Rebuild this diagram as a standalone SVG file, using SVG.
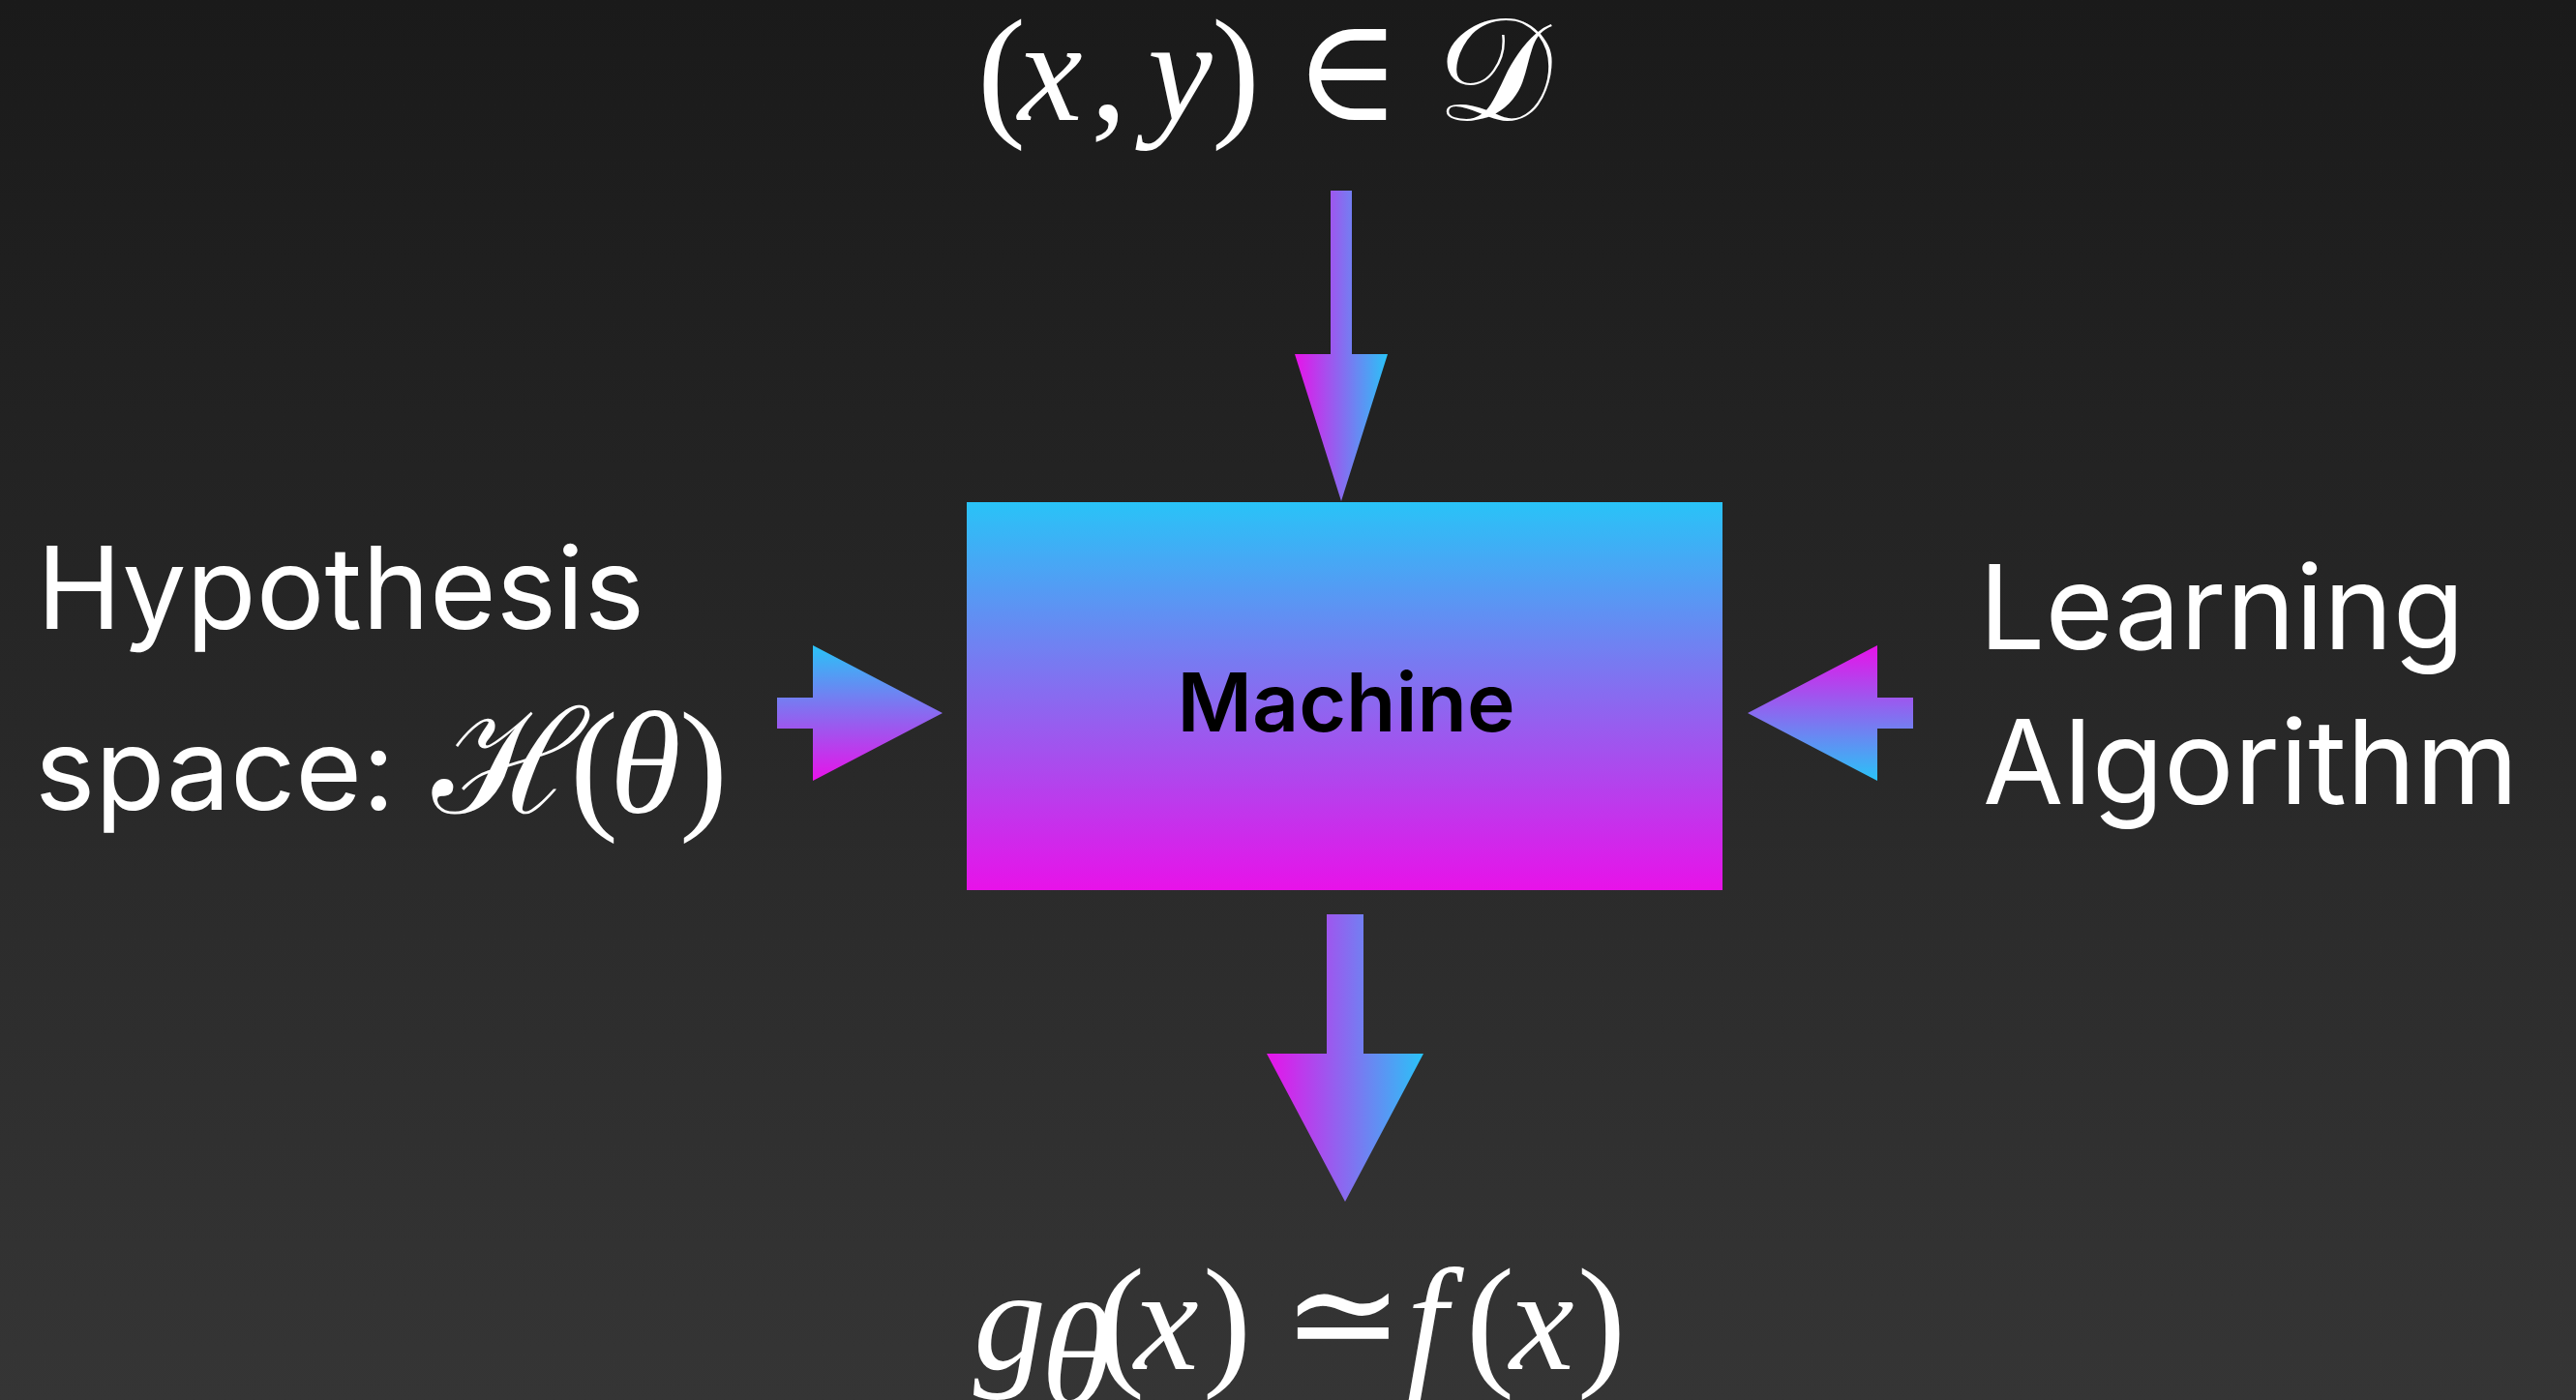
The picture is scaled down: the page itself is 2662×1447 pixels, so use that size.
<svg xmlns="http://www.w3.org/2000/svg" width="2662" height="1447" viewBox="0 0 2662 1447">
  <defs>
    <linearGradient id="bg" x1="0" y1="0" x2="0" y2="1">
      <stop offset="0" stop-color="#1a1a1a"/>
      <stop offset="1" stop-color="#353535"/>
    </linearGradient>
    <linearGradient id="rectGrad" x1="0" y1="0" x2="0" y2="1">
      <stop offset="0" stop-color="#29c3f7"/>
      <stop offset="1" stop-color="#e812e9"/>
    </linearGradient>
    <linearGradient id="gradLR" x1="0" y1="0" x2="1" y2="0">
      <stop offset="0" stop-color="#e812e9"/>
      <stop offset="1" stop-color="#29c3f7"/>
    </linearGradient>
    <linearGradient id="gradTB" x1="0" y1="0" x2="0" y2="1">
      <stop offset="0" stop-color="#29c3f7"/>
      <stop offset="1" stop-color="#e812e9"/>
    </linearGradient>
    <linearGradient id="gradBT" x1="0" y1="0" x2="0" y2="1">
      <stop offset="0" stop-color="#e812e9"/>
      <stop offset="1" stop-color="#29c3f7"/>
    </linearGradient>
  </defs>
  <style>
    .label { font-family: Inter, "Liberation Sans", sans-serif; font-size: 118px; fill: #ffffff; font-weight: 400; }
    .label-r { font-size: 121px; }
    .math { font-family: "Liberation Serif", "DejaVu Serif", serif; font-size: 150px; fill: #ffffff; }
    .it { font-style: italic; }
    .sym { font-family: "DejaVu Serif", "Liberation Serif", serif; }
    .node-title { font-family: Inter, "Liberation Sans", sans-serif; font-size: 84px; font-weight: 600; fill: #000000; }
  </style>
  <rect x="0" y="0" width="2662" height="1447" fill="url(#bg)"/>

  <g id="connectors">
    <polygon id="arrow-top" points="1375,197 1397,197 1397,366 1434,366 1386,518 1338,366 1375,366" fill="url(#gradLR)"/>
    <polygon id="arrow-bottom" points="1371,945 1409,945 1409,1089 1471,1089 1390,1242 1309,1089 1371,1089" fill="url(#gradLR)"/>
    <polygon id="arrow-left" points="803,721 840,721 840,667 974,737 840,807 840,753 803,753" fill="url(#gradTB)"/>
    <polygon id="arrow-right" points="1977,721 1940,721 1940,667 1806,737 1940,807 1940,753 1977,753" fill="url(#gradBT)"/>
  </g>

  <g id="node-machine">
    <rect x="999" y="519" width="781" height="401" fill="url(#rectGrad)"/>
    <text class="node-title" x="1391" y="756" text-anchor="middle">Machine</text>
  </g>

  <g id="node-data">
    <text class="math" x="1010" y="124">(</text>
    <text class="math it" x="1052" y="124">x</text>
    <text class="math" x="1127" y="124">,</text>
    <text class="math it" x="1186" y="124">y</text>
    <text class="math" x="1252" y="124">)</text>
    <text class="math sym" x="1337" y="124">∈</text>
    <text class="math" x="1484" y="124">𝒟</text>
  </g>

  <g id="node-output">
    <text class="math it" x="1006" y="1415">g</text>
    <text class="math it" x="1076" y="1452" font-size="88">θ</text>
    <text class="math" x="1133" y="1415">(</text>
    <text class="math it" x="1172" y="1415">x</text>
    <text class="math" x="1243" y="1415">)</text>
    <text class="math sym" x="1325" y="1410" font-size="120">≃</text>
    <text class="math it" x="1454" y="1415">f</text>
    <text class="math" x="1515" y="1415">(</text>
    <text class="math it" x="1560" y="1415">x</text>
    <text class="math" x="1630" y="1415">)</text>
  </g>

  <g id="node-hypothesis">
    <text class="label" x="38" y="650">Hypothesis</text>
    <text class="label" x="36" y="837">space:</text>
    <text class="math" x="447" y="840" font-size="145">ℋ</text>
    <text class="math" x="589" y="840">(</text>
    <text class="math it" x="630" y="840">θ</text>
    <text class="math" x="702" y="840">)</text>
  </g>

  <g id="node-algorithm">
    <text class="label label-r" x="2045" y="671">Learning</text>
    <text class="label label-r" x="2049" y="831">Algorithm</text>
  </g>
</svg>
